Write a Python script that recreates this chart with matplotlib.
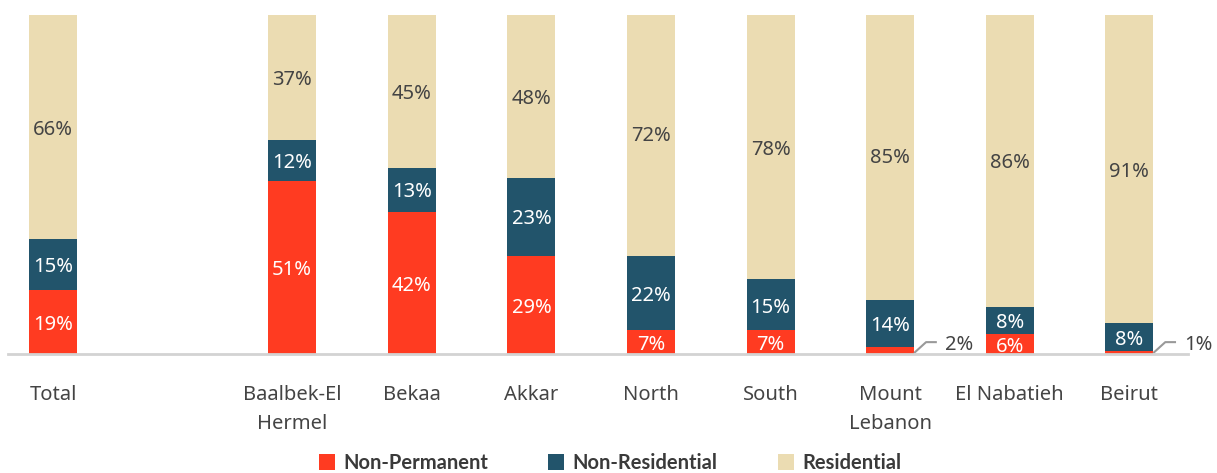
import matplotlib
matplotlib.use("Agg")
import matplotlib.pyplot as plt
from matplotlib.patches import Patch
import numpy as np

plt.rcParams['font.family'] = ['Noto Sans', 'DejaVu Sans']

# data
categories = ['Total', 'Baalbek-El\nHermel', 'Bekaa', 'Akkar', 'North', 'South',
              'Mount\nLebanon', 'El Nabatieh', 'Beirut']
non_permanent = [19, 51, 42, 29, 7, 7, 2, 6, 1]
non_residential = [15, 12, 13, 23, 22, 15, 14, 8, 8]
residential = [66, 37, 45, 48, 72, 78, 85, 86, 91]
series_names = ['Non-Permanent', 'Non-Residential', 'Residential']

colors = ['#FF3B21', '#22546B', '#EBDCB2']
text_colors = ['white', 'white', '#444444']
dark = '#444444'

# Total sits alone, then a gap of one slot
pos = np.array([0, 2, 3, 4, 5, 6, 7, 8, 9], dtype=float)
width = 0.4

fig = plt.figure(figsize=(12.17, 4.73), dpi=100)
ax = fig.add_axes([8 / 1217, (473 - 354) / 473, (1188 - 8) / 1217, 339 / 473])

bottom = np.zeros(len(pos))
series = [non_permanent, non_residential, residential]
for vals, col, tcol in zip(series, colors, text_colors):
    vals = np.array(vals, dtype=float)
    ax.bar(pos, vals, width, bottom=bottom, color=col, linewidth=0)
    for x, b, v in zip(pos, bottom, vals):
        if v < 3:
            # small values get a leader line outside the bar
            x0 = x + width / 2
            ax.plot([x0, x0 + 0.1, x0 + 0.19], [0.3, 3.5, 3.5], color='#999999',
                    lw=1.5, clip_on=False, solid_capstyle='butt')
            ax.text(x0 + 0.26, 2.8, f'{v:.0f}%', ha='left', va='center',
                    fontsize=14.5, color=dark, clip_on=False)
        else:
            ax.text(x, b + v / 2 - 0.8, f'{v:.0f}%', ha='center', va='center',
                    fontsize=14.5, color=tcol, clip_on=True)
    bottom += vals

ax.set_xlim(-0.376, 9.49)
ax.set_ylim(0, 100)
for s in ['top', 'right', 'left']:
    ax.spines[s].set_visible(False)
ax.spines['bottom'].set_color('#D3D3D3')
ax.spines['bottom'].set_linewidth(2)
ax.set_yticks([])
ax.set_xticks(pos)
ax.set_xticklabels(categories, fontsize=14.5, color=dark, linespacing=1.65)
ax.tick_params(axis='x', length=0, pad=22)

handles = [Patch(facecolor=c, edgecolor='none') for c in colors]
leg = fig.legend(handles, series_names, loc='center', bbox_to_anchor=(610 / 1217, 1 - 463 / 473),
                 ncol=3, frameon=False, handlelength=0.8, handleheight=0.8,
                 handletextpad=0.4, columnspacing=3.0,
                 prop={'family': 'Lato', 'weight': 'bold', 'size': 14.5})
for t in leg.get_texts():
    t.set_color('#3a3a3a')

fig.savefig('out.png', dpi=100)
